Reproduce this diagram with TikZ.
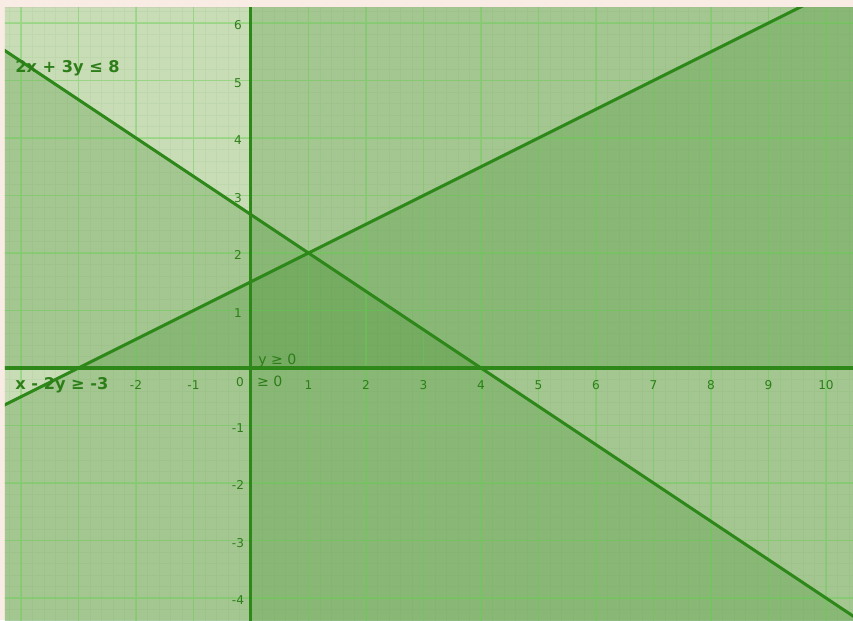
\documentclass[tikz,border=0pt]{standalone}
\usepackage{fontspec}
\setmainfont{DejaVu Sans}
\definecolor{beige}{RGB}{248,236,228}
\definecolor{basecol}{RGB}{248,247,229}
\definecolor{shade}{RGB}{60,140,40}
\definecolor{gridc}{RGB}{100,210,80}
\definecolor{linec}{RGB}{45,135,25}
\definecolor{textc}{RGB}{45,125,25}
\begin{document}
\begin{tikzpicture}[
  region/.style={fill=shade, fill opacity=0.25},
  majorgrid/.style={draw=gridc, draw opacity=0.4, line width=0.9pt},
  minorgrid/.style={draw=shade, draw opacity=0.06, line width=0.3pt},
  axisline/.style={draw=linec, line width=1.5pt},
  ineqline/.style={draw=linec, line width=1.5pt},
  ticklab/.style={text=textc, font=\fontsize{6}{6}\selectfont, inner sep=0pt},
  ineqlab/.style={text=textc, font=\fontsize{8}{8}\selectfont\bfseries, inner sep=0pt, anchor=west}
]
\fill[beige] (-4.365,-4.383) rectangle (10.470,6.4);
\useasboundingbox (-4.365,-4.383) rectangle (10.470,6.4);
\fill[basecol] (-4.278,-4.383) rectangle (10.470,6.261);
\begin{scope}
  \clip (-4.278,-4.383) rectangle (10.470,6.261);
  \fill[region] (-5,0) rectangle (11,7);
  \fill[region] (0,-5) rectangle (11,7);
  \fill[region] (-5,6) -- (11,-14/3) -- (11,-5) -- (-5,-5) -- cycle;
  \fill[region] (-5,-1) -- (11,7) -- (11,-5) -- (-5,-5) -- cycle;
  \draw[minorgrid] (-5,-5) grid[step=0.2] (11,7);
  \draw[majorgrid] (-5,-5) grid[step=1] (11,7);
  \draw[axisline] (-5,0) -- (11,0);
  \draw[axisline] (0,-5) -- (0,7);
  \draw[ineqline] (-5,6) -- (11,-14/3);
  \draw[ineqline] (-5,-1) -- (11,7);
\end{scope}
% x tick labels
\foreach \k in {-2,-1,1,2,3,4,5,6,7,8,9,10}
  \node[ticklab] (xt\k) at (\k,-0.296) {\k};
\node[ticklab] (xt0) at (-0.19,-0.25) {0};
% y tick labels
\foreach \k in {-4,-3,-2,-1,1,2,3,4,5,6}
  \node[ticklab] (yt\k) at (-0.226,\k-0.04) {\k};
% inequality labels
\node[ineqlab] (l1) at (-4.104,5.217) {2x + 3y ≤ 8};
\node[ineqlab] (l2) at (-4.104,-0.296) {x - 2y ≥ -3};
\node[ineqlab, font=\fontsize{7}{7}\selectfont] (l3) at (0.12,0.12) {y ≥ 0};
\node[ineqlab, font=\fontsize{7}{7}\selectfont] (l4) at (0.1,-0.23) {≥ 0};
\end{tikzpicture}
\end{document}
